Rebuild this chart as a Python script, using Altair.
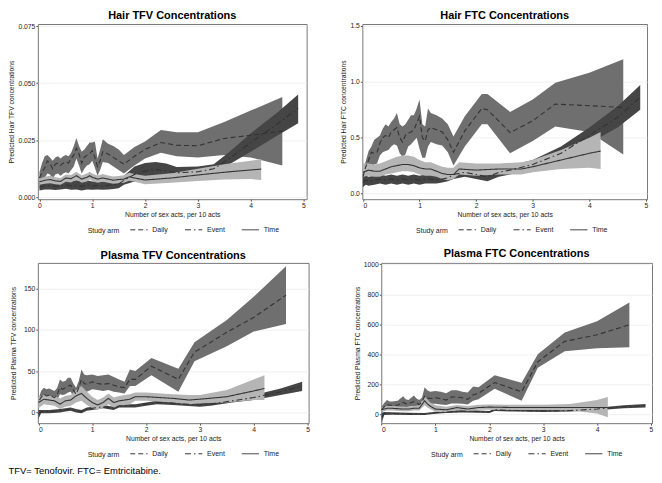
import altair as alt
import pandas as pd

FONT = "Liberation Sans"
ARMS = ["Daily", "Event", "Time"]
BAND_COLORS = ["#6f6f6f", "#454545", "#b5b5b5"]
LINE_COLOR = "#333333"
X_TICKS = [0, 1, 2, 3, 4, 5]
X_TITLE = "Number of sex acts, per 10 acts"

# ---------------- Hair TFV ----------------
HT_DAILY_X = [0.00, 0.05, 0.10, 0.15, 0.20, 0.25, 0.30, 0.35, 0.40, 0.45, 0.50, 0.55, 0.60, 0.65, 0.70, 0.75, 0.80, 0.85, 0.90, 0.95, 1.00, 1.05, 1.10, 1.15, 1.20, 1.30, 1.40, 1.50, 1.60, 1.80, 2.00, 2.30, 2.60, 3.00, 3.50, 4.00, 4.60]
HT_DAILY_M = [.0085, .0110, .0130, .0160, .0150, .0125, .0145, .0150, .0140, .0150, .0155, .0150, .0170, .0185, .0215, .0190, .0150, .0175, .0185, .0190, .0205, .0175, .0135, .0160, .0200, .0190, .0175, .0160, .0145, .0180, .0210, .0240, .0228, .0226, .0258, .0272, .0290]
HT_DAILY_LO = [.0055, .0070, .0085, .0105, .0100, .0080, .0100, .0105, .0095, .0105, .0110, .0105, .0120, .0135, .0170, .0140, .0105, .0125, .0140, .0145, .0160, .0130, .0095, .0120, .0155, .0150, .0135, .0120, .0105, .0140, .0170, .0195, .0180, .0175, .0185, .0175, .0140]
HT_DAILY_HI = [.0110, .0150, .0180, .0185, .0175, .0160, .0175, .0180, .0170, .0180, .0185, .0180, .0195, .0225, .0260, .0225, .0200, .0210, .0225, .0240, .0240, .0245, .0170, .0210, .0255, .0235, .0225, .0210, .0185, .0220, .0245, .0295, .0285, .0285, .0330, .0380, .0440]
HT_EVENT_X = [0.00, 0.10, 0.20, 0.30, 0.40, 0.50, 0.60, 0.70, 0.80, 0.90, 1.00, 1.10, 1.20, 1.30, 1.40, 1.50, 1.60, 1.80, 2.00, 2.20, 2.40, 2.60, 3.00, 3.30, 3.60, 4.00, 4.50, 4.90]
HT_EVENT_M = [.0045, .0050, .0052, .0048, .0050, .0055, .0050, .0052, .0048, .0055, .0050, .0052, .0050, .0053, .0055, .0058, .0075, .0100, .0115, .0122, .0115, .0108, .0112, .0125, .0170, .0240, .0320, .0390]
HT_EVENT_LO = [.0030, .0035, .0035, .0032, .0035, .0038, .0033, .0035, .0030, .0035, .0033, .0035, .0033, .0035, .0037, .0040, .0055, .0070, .0080, .0088, .0085, .0083, .0090, .0105, .0145, .0200, .0270, .0325]
HT_EVENT_HI = [.0065, .0070, .0072, .0068, .0072, .0075, .0070, .0075, .0070, .0075, .0070, .0072, .0070, .0073, .0075, .0078, .0095, .0135, .0150, .0155, .0148, .0133, .0135, .0145, .0200, .0280, .0370, .0450]
HT_TIME_X = [0.00, 0.10, 0.20, 0.30, 0.40, 0.50, 0.60, 0.70, 0.80, 0.90, 0.95, 1.00, 1.10, 1.20, 1.30, 1.40, 1.50, 1.60, 1.70, 1.80, 2.00, 2.50, 3.00, 3.50, 4.00, 4.20]
HT_TIME_M = [.0068, .0075, .0078, .0072, .0070, .0085, .0082, .0095, .0080, .0088, .0095, .0088, .0080, .0085, .0080, .0075, .0078, .0080, .0090, .0085, .0076, .0085, .0098, .0110, .0120, .0124]
HT_TIME_LO = [.0055, .0060, .0062, .0058, .0055, .0068, .0065, .0078, .0064, .0070, .0078, .0071, .0064, .0068, .0064, .0060, .0062, .0064, .0073, .0068, .0058, .0064, .0072, .0078, .0080, .0076]
HT_TIME_HI = [.0082, .0090, .0095, .0088, .0085, .0100, .0098, .0112, .0096, .0104, .0112, .0105, .0096, .0102, .0096, .0091, .0094, .0097, .0108, .0102, .0095, .0106, .0125, .0145, .0160, .0168]

# ---------------- Hair FTC ----------------
HF_DAILY_X = [0.00, 0.05, 0.10, 0.15, 0.20, 0.25, 0.30, 0.35, 0.40, 0.45, 0.50, 0.55, 0.60, 0.65, 0.70, 0.75, 0.80, 0.85, 0.90, 0.95, 1.00, 1.05, 1.10, 1.15, 1.20, 1.30, 1.40, 1.50, 1.60, 1.80, 2.10, 2.20, 2.60, 3.00, 3.40, 4.00, 4.60]
HF_DAILY_M = [.15, .24, .30, .37, .36, .37, .45, .50, .52, .50, .55, .57, .59, .50, .46, .52, .54, .55, .57, .63, .69, .50, .47, .57, .59, .57, .55, .48, .37, .56, .76, .75, .545, .65, .80, .785, .77]
HF_DAILY_LO = [.05, .14, .20, .24, .26, .27, .34, .37, .38, .39, .42, .44, .43, .36, .33, .35, .42, .44, .47, .50, .40, .32, .32, .42, .46, .44, .43, .37, .25, .42, .62, .62, .36, .47, .60, .55, .35]
HF_DAILY_HI = [.22, .29, .38, .42, .48, .50, .52, .58, .62, .60, .64, .67, .72, .62, .60, .62, .66, .70, .70, .76, .84, .62, .60, .76, .72, .70, .67, .62, .51, .69, .89, .89, .73, .84, .99, 1.08, 1.20]
HF_EVENT_X = [0.00, 0.05, 0.10, 0.20, 0.30, 0.40, 0.50, 0.60, 0.70, 0.80, 0.90, 1.00, 1.10, 1.20, 1.30, 1.40, 1.50, 1.60, 1.80, 2.00, 2.20, 2.40, 2.60, 3.00, 3.50, 4.00, 4.50, 4.90]
HF_EVENT_M = [.10, .12, .11, .12, .13, .12, .13, .12, .13, .12, .13, .12, .13, .13, .12, .13, .14, .17, .19, .17, .15, .19, .21, .26, .36, .52, .68, .86]
HF_EVENT_LO = [.06, .08, .07, .08, .09, .08, .09, .08, .09, .08, .09, .08, .09, .09, .09, .10, .11, .13, .15, .13, .11, .15, .17, .22, .31, .45, .59, .75]
HF_EVENT_HI = [.14, .16, .15, .16, .17, .16, .17, .16, .17, .16, .17, .16, .17, .17, .16, .16, .17, .21, .23, .21, .19, .23, .25, .30, .42, .59, .78, .97]
HF_TIME_X = [0.00, 0.10, 0.20, 0.30, 0.40, 0.50, 0.60, 0.70, 0.80, 0.90, 1.00, 1.10, 1.20, 1.30, 1.40, 1.50, 1.60, 1.70, 2.00, 2.40, 2.80, 3.00, 3.50, 4.00, 4.20]
HF_TIME_M = [.19, .21, .20, .20, .22, .24, .25, .26, .26, .25, .23, .22, .22, .20, .18, .17, .17, .22, .21, .22, .22, .24, .30, .36, .38]
HF_TIME_LO = [.15, .16, .15, .15, .17, .18, .19, .20, .20, .19, .17, .16, .16, .15, .13, .12, .13, .17, .16, .17, .17, .19, .22, .23, .22]
HF_TIME_HI = [.27, .27, .26, .27, .29, .31, .33, .34, .34, .33, .30, .28, .28, .26, .24, .23, .23, .28, .27, .27, .28, .30, .39, .50, .55]

# ---------------- Plasma TFV ----------------
PT_DAILY_X = [0.02, 0.05, 0.10, 0.15, 0.20, 0.30, 0.35, 0.40, 0.45, 0.50, 0.55, 0.60, 0.65, 0.70, 0.75, 0.80, 0.85, 0.90, 1.00, 1.10, 1.20, 1.30, 1.40, 1.50, 1.60, 1.70, 1.80, 2.10, 2.60, 2.90, 3.50, 4.00, 4.60]
PT_DAILY_M = [15, 18, 22, 20, 21, 18, 22, 30, 28, 30, 32, 33, 27, 22, 30, 40, 35, 34, 37, 35, 34, 35, 33, 31, 30, 40, 40, 56, 40, 73, 97, 115, 142]
PT_DAILY_LO = [8, 12, 15, 14, 14, 12, 15, 22, 21, 22, 24, 25, 19, 15, 22, 30, 26, 25, 28, 27, 26, 27, 25, 24, 23, 32, 32, 45, 25, 62, 80, 98, 107]
PT_DAILY_HI = [20, 26, 30, 28, 29, 26, 30, 40, 37, 38, 42, 42, 35, 30, 38, 52, 46, 45, 46, 44, 45, 46, 43, 40, 37, 52, 50, 66, 53, 85, 112, 140, 177]
PT_EVENT_X = [0.00, 0.05, 0.20, 0.40, 0.50, 0.60, 0.70, 0.80, 0.90, 1.00, 1.20, 1.40, 1.50, 1.80, 2.00, 2.20, 2.50, 3.00, 3.20, 3.60, 4.00, 4.50, 4.90]
PT_EVENT_M = [-2, 1, 1, 2, 3, 4, 2, 1, 4, 5, 7, 5, 8, 8, 10, 12, 11, 9, 10, 14, 18, 25, 32]
PT_EVENT_LO = [-8, -1, -1, 0, 1, 2, 0, -1, 2, 3, 5, 3, 6, 6, 8, 10, 9, 7, 8, 12, 15, 21, 26]
PT_EVENT_HI = [3, 3, 3, 4, 5, 6, 4, 3, 6, 7, 9, 7, 10, 10, 12, 14, 13, 11, 12, 17, 21, 29, 37]
PT_TIME_X = [0.00, 0.10, 0.20, 0.30, 0.40, 0.50, 0.60, 0.70, 0.80, 0.90, 1.00, 1.10, 1.20, 1.30, 1.40, 1.50, 1.70, 1.80, 2.00, 2.50, 2.80, 3.00, 3.50, 4.00, 4.20]
PT_TIME_M = [12, 16, 15, 14, 10, 14, 15, 20, 23, 17, 12, 9, 12, 17, 12, 14, 16, 19, 19, 17, 15, 16, 19, 26, 29]
PT_TIME_LO = [5, 10, 9, 8, 4, 7, 8, 12, 14, 9, 5, 3, 6, 10, 6, 8, 10, 14, 14, 12, 10, 11, 12, 15, 15]
PT_TIME_HI = [18, 21, 20, 20, 17, 20, 21, 27, 32, 25, 19, 15, 18, 23, 18, 20, 22, 24, 24, 22, 21, 21, 27, 40, 45]

# ---------------- Plasma FTC ----------------
PF_DAILY_X = [0.00, 0.05, 0.10, 0.15, 0.20, 0.30, 0.40, 0.45, 0.50, 0.60, 0.65, 0.70, 0.75, 0.80, 0.85, 0.90, 1.00, 1.10, 1.20, 1.30, 1.40, 1.50, 1.60, 1.70, 1.80, 2.10, 2.60, 2.90, 3.40, 4.00, 4.60]
PF_DAILY_M = [30, 50, 65, 60, 60, 60, 80, 70, 70, 85, 75, 65, 80, 120, 110, 105, 110, 105, 95, 115, 115, 110, 100, 130, 140, 212, 150, 350, 486, 530, 597]
PF_DAILY_LO = [10, 30, 40, 40, 40, 40, 50, 45, 50, 55, 50, 45, 55, 80, 75, 70, 70, 65, 62, 72, 72, 70, 65, 90, 100, 170, 90, 310, 420, 440, 447]
PF_DAILY_HI = [50, 75, 95, 85, 85, 90, 120, 100, 95, 125, 105, 95, 110, 180, 160, 150, 155, 150, 140, 160, 160, 150, 145, 185, 180, 260, 210, 400, 545, 620, 745]
PF_EVENT_X = [0.00, 0.05, 0.20, 0.50, 0.80, 1.00, 1.20, 1.50, 1.80, 2.00, 2.10, 2.50, 3.00, 3.50, 4.00, 4.50, 4.90]
PF_EVENT_M = [-20, 5, 5, 3, 2, 10, 15, 20, 18, 15, 30, 25, 22, 25, 35, 50, 57]
PF_EVENT_LO = [-60, -5, -3, -4, -5, 3, 8, 12, 10, 8, 22, 18, 15, 18, 27, 40, 45]
PF_EVENT_HI = [10, 15, 13, 10, 9, 17, 22, 28, 26, 22, 38, 32, 29, 32, 43, 60, 68]
PF_TIME_X = [0.00, 0.10, 0.20, 0.40, 0.50, 0.60, 0.70, 0.80, 0.85, 0.90, 1.00, 1.20, 1.40, 1.60, 1.80, 2.00, 2.50, 3.00, 3.50, 4.00, 4.20]
PF_TIME_M = [30, 40, 40, 35, 35, 40, 40, 90, 70, 55, 35, 30, 45, 35, 45, 48, 45, 45, 45, 45, 45]
PF_TIME_LO = [15, 25, 25, 20, 20, 25, 25, 60, 45, 35, 15, 15, 28, 22, 30, 30, 28, 28, 25, 5, -20]
PF_TIME_HI = [45, 55, 55, 50, 50, 55, 60, 120, 100, 80, 60, 50, 62, 55, 63, 65, 63, 63, 68, 95, 115]


def frame(series):
    parts = []
    for arm, (xs, ms, los, his) in zip(ARMS, series):
        parts.append(pd.DataFrame({"x": xs, "mean": ms, "lo": los, "hi": his, "arm": arm}))
    return pd.concat(parts, ignore_index=True)


def panel(df, title, ytitle, ydom, yvals, yfmt, xdom, w, h, leg_x, ytitle_pad):
    xenc = alt.X("x:Q", scale=alt.Scale(domain=xdom, nice=False, zero=False),
                 axis=alt.Axis(values=X_TICKS, format="d", title=X_TITLE, grid=False))
    yaxis = alt.Axis(values=yvals, format=yfmt, title=ytitle, grid=True, titlePadding=ytitle_pad)
    yscale = alt.Scale(domain=ydom, nice=False, zero=False)
    base = alt.Chart(df)
    layers = []
    for arm, col in zip(ARMS, BAND_COLORS):
        layers.append(
            base.transform_filter(alt.datum.arm == arm)
            .mark_area(color=col, opacity=1, clip=True)
            .encode(x=xenc, y=alt.Y("lo:Q", scale=yscale, axis=yaxis), y2="hi:Q")
        )
    lines = base.mark_line(color=LINE_COLOR, strokeWidth=1.1, clip=True).encode(
        x=xenc,
        y=alt.Y("mean:Q", scale=yscale, axis=yaxis),
        strokeDash=alt.StrokeDash(
            "arm:N",
            scale=alt.Scale(domain=ARMS, range=[[5, 3], [6, 3, 1.5, 3], [1, 0]]),
            legend=alt.Legend(
                title="Study arm", orient="none", legendX=leg_x, legendY=h + 21,
                direction="horizontal", titleOrient="left", titleAnchor="end",
                titleBaseline="alphabetic", titleFontWeight="normal",
                titleFontSize=7, labelFontSize=7, titleColor="#222222", labelColor="#222222",
                symbolType="stroke", symbolSize=300, symbolStrokeWidth=1,
                symbolStrokeColor=LINE_COLOR, columnPadding=14, titlePadding=10,
                labelOffset=4,
            ),
        ),
    )
    layers.append(lines)
    return alt.layer(*layers).properties(
        width=w, height=h,
        title=alt.TitleParams(title, fontSize=11, fontWeight="bold", anchor="middle", offset=2, color="#000"),
    )


hair_tfv = frame([(HT_DAILY_X, HT_DAILY_M, HT_DAILY_LO, HT_DAILY_HI),
                  (HT_EVENT_X, HT_EVENT_M, HT_EVENT_LO, HT_EVENT_HI),
                  (HT_TIME_X, HT_TIME_M, HT_TIME_LO, HT_TIME_HI)])
hair_ftc = frame([(HF_DAILY_X, HF_DAILY_M, HF_DAILY_LO, HF_DAILY_HI),
                  (HF_EVENT_X, HF_EVENT_M, HF_EVENT_LO, HF_EVENT_HI),
                  (HF_TIME_X, HF_TIME_M, HF_TIME_LO, HF_TIME_HI)])
plasma_tfv = frame([(PT_DAILY_X, PT_DAILY_M, PT_DAILY_LO, PT_DAILY_HI),
                    (PT_EVENT_X, PT_EVENT_M, PT_EVENT_LO, PT_EVENT_HI),
                    (PT_TIME_X, PT_TIME_M, PT_TIME_LO, PT_TIME_HI)])
plasma_ftc = frame([(PF_DAILY_X, PF_DAILY_M, PF_DAILY_LO, PF_DAILY_HI),
                    (PF_EVENT_X, PF_EVENT_M, PF_EVENT_LO, PF_EVENT_HI),
                    (PF_TIME_X, PF_TIME_M, PF_TIME_LO, PF_TIME_HI)])

p1 = panel(hair_tfv, "Hair TFV Concentrations", "Predicted Hair TFV concentrations",
           [-0.0008, 0.0759], [0, 0.025, 0.05, 0.075], ".3f", [-0.03, 5.06], 270, 176, 50, 3)
p2 = panel(hair_ftc, "Hair FTC Concentrations", "Predicted Hair FTC concentrations",
           [-0.05, 1.515], [0, 0.5, 1.0, 1.5], ".1f", [-0.01, 5.02], 286, 176, 54, 3)
p3 = panel(plasma_tfv, "Plasma TFV Concentrations", "Predicted Plasma TFV concentrations",
           [-13, 181], [0, 50, 100, 150], "d", [-0.01, 5.02], 272, 161, 50, 7)
p4 = panel(plasma_ftc, "Plasma FTC Concentrations", "Predicted Plasma FTC concentrations",
           [-59, 1009], [0, 200, 400, 600, 800, 1000], "d", [-0.005, 5.02], 272, 161, 50, 3)

RES = dict(x="independent", y="independent", strokeDash="independent")
row1 = alt.hconcat(p1, p2, spacing=33).resolve_scale(**RES).resolve_legend(strokeDash="independent")
row2 = alt.hconcat(p3, p4, spacing=43).resolve_scale(**RES).resolve_legend(strokeDash="independent")

chart = (
    alt.vconcat(row1, row2, spacing=12)
    .resolve_scale(**RES)
    .resolve_legend(strokeDash="independent")
    .properties(
        padding=0,
        title=alt.TitleParams("TFV= Tenofovir. FTC= Emtricitabine.", orient="bottom", anchor="start",
                              fontSize=9.5, fontWeight="normal", color="#000", offset=8),
    )
    .configure(font=FONT)
    .configure_view(stroke="#777777", strokeWidth=1)
    .configure_axis(labelFontSize=6.8, titleFontSize=6.8, titleFontWeight="normal",
                    labelColor="#222222", titleColor="#222222", tickSize=2, tickColor="#555555",
                    labelPadding=1, domain=False, gridColor="#ececec", gridWidth=0.8)
    .configure_axisX(titlePadding=3)
)

chart.save("out.html", embed_options={"renderer": "svg", "actions": False})
